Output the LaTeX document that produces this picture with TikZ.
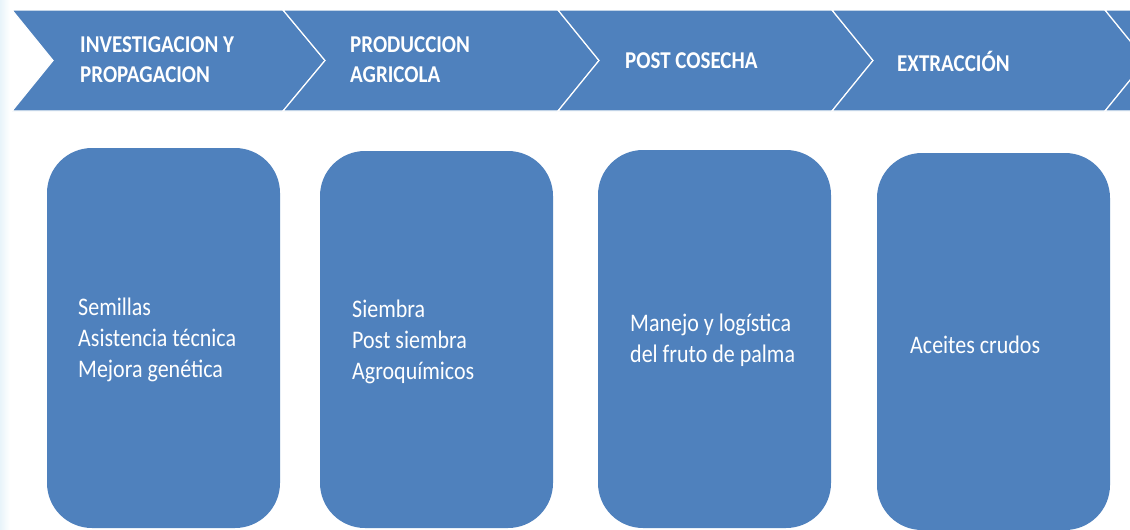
\documentclass[tikz,border=0pt]{standalone}
\usepackage{fontspec}
\usepackage{graphicx}
\setmainfont{Carlito}
\definecolor{blu}{RGB}{79,129,189}
\definecolor{tint}{RGB}{232,244,250}
\newcommand\tallt[1]{\scalebox{1}[1.15]{#1}}
\begin{document}
\begin{tikzpicture}[x=1pt,y=-1pt,
  chev/.style={fill=blu,draw=white,line width=1.2pt,line join=miter},
  head/.style={text=white,font=\fontsize{21}{30}\selectfont\bfseries,align=left,anchor=west,inner sep=0pt},
  card/.style={fill=blu,draw=none,rounded corners=45pt,minimum width=233pt,inner sep=0pt},
  body/.style={text=white,font=\fontsize{22}{31}\selectfont,align=left,anchor=west,inner sep=0pt}]
\path[use as bounding box] (0,0) rectangle (1130,530);
\clip (0,0) rectangle (1130,530);
\fill[white] (0,0) rectangle (1130,530);
\shade[left color=tint,right color=white] (0,0) rectangle (10,530);
% chevrons
\path[chev] (12,10) -- (283,10) -- (325,60.5) -- (283,111) -- (12,111) -- (53,60.5) -- cycle;
\path[chev] (283,10) -- (558,10) -- (599,60.5) -- (558,111) -- (283,111) -- (325,60.5) -- cycle;
\path[chev] (558,10) -- (832,10) -- (873,60.5) -- (832,111) -- (558,111) -- (599,60.5) -- cycle;
\path[chev] (832,10) -- (1105,10) -- (1146,60.5) -- (1105,111) -- (832,111) -- (873,60.5) -- cycle;
\path[chev] (1105,10) -- (1380,10) -- (1421,60.5) -- (1380,111) -- (1105,111) -- (1146,60.5) -- cycle;
\node[head] (h1) at (80,60) {\tallt{INVESTIGACION Y}\\\tallt{PROPAGACION}};
\node[head] (h2) at (350,60) {\tallt{PRODUCCION}\\\tallt{AGRICOLA}};
\node[head] (h3) at (625,61) {\tallt{POST COSECHA}};
\node[head] (h4) at (897,61) {\tallt{EXTRACCIÓN}};
% cards
\node[card,minimum height=380pt] (c1) at (163.5,338) {};
\node[card,minimum height=377pt] (c2) at (436.5,339.5) {};
\node[card,minimum height=378pt] (c3) at (714.5,339) {};
\node[card,minimum height=377pt] (c4) at (993.5,341.5) {};
\node[body] (t1) at (78,340) {\tallt{Semillas}\\\tallt{Asistencia técnica}\\\tallt{Mejora genética}};
\node[body] (t2) at (352,342) {\tallt{Siembra}\\\tallt{Post siembra}\\\tallt{Agroquímicos}};
\node[body] (t3) at (630,340) {\tallt{Manejo y logística}\\\tallt{del fruto de palma}};
\node[body] (t4) at (910,345) {\tallt{Aceites crudos}};
\end{tikzpicture}
\end{document}
